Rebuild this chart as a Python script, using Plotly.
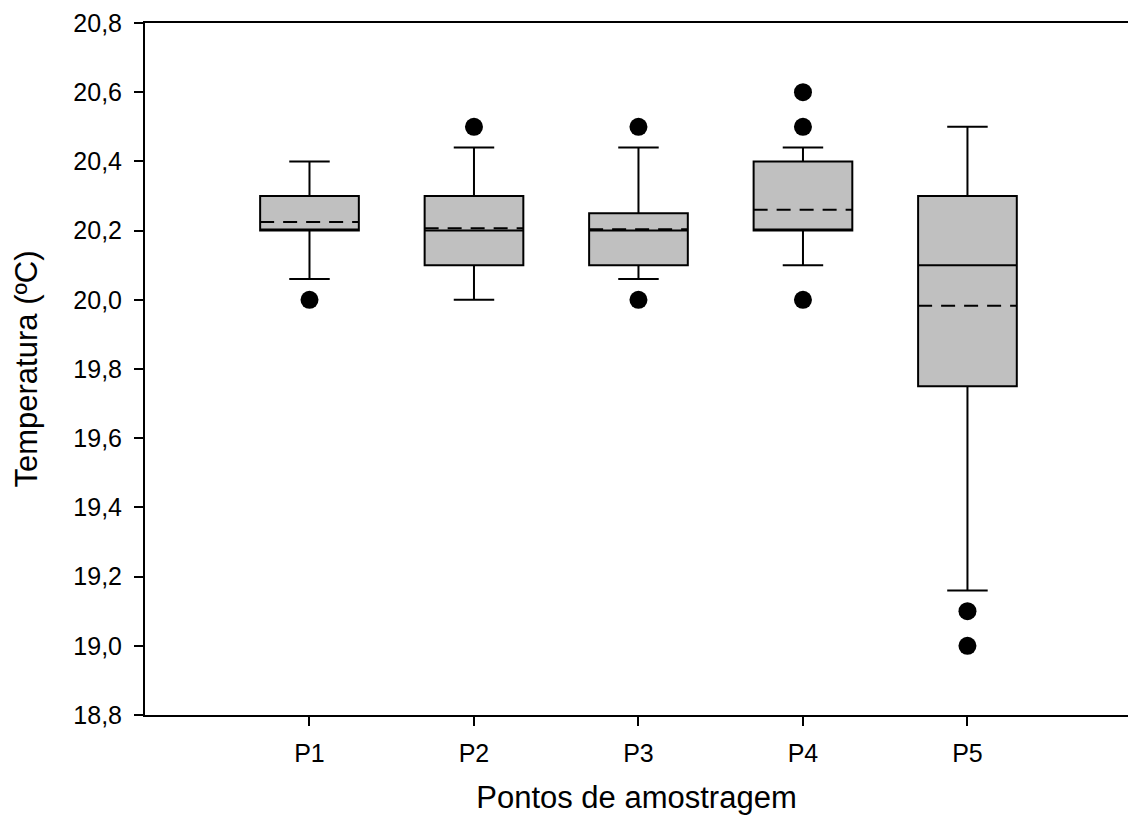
import plotly.graph_objects as go

categories = ["P1", "P2", "P3", "P4", "P5"]
positions = [1, 2, 3, 4, 5]
q1 = [20.20, 20.10, 20.10, 20.20, 19.75]
median = [20.20, 20.20, 20.20, 20.20, 20.10]
q3 = [20.30, 20.30, 20.25, 20.40, 20.30]
mean = [20.225, 20.207, 20.204, 20.26, 19.983]
lower_whisker = [20.06, 20.00, 20.06, 20.10, 19.16]
upper_whisker = [20.40, 20.44, 20.44, 20.44, 20.50]

outlier_x = [1, 2, 3, 3, 4, 4, 4, 5, 5]
outlier_y = [20.0, 20.5, 20.5, 20.0, 20.6, 20.5, 20.0, 19.1, 19.0]

y_ticks = [18.8, 19.0, 19.2, 19.4, 19.6, 19.8, 20.0, 20.2, 20.4, 20.6, 20.8]

FONT = "Liberation Sans, Arial, sans-serif"
BOX_W = 0.6

fig = go.Figure()
fig.add_trace(go.Box(
    x=positions,
    q1=q1, median=median, q3=q3,
    lowerfence=lower_whisker, upperfence=upper_whisker,
    boxpoints=False, boxmean=False,
    fillcolor="#c0c0c0",
    line=dict(color="black", width=2),
    width=BOX_W, whiskerwidth=0.41,
    showlegend=False, hoverinfo="skip",
))

# dashed mean lines across each box
mx, my = [], []
for p, m in zip(positions, mean):
    mx += [p - BOX_W / 2, p + BOX_W / 2, None]
    my += [m, m, None]
fig.add_trace(go.Scatter(
    x=mx, y=my, mode="lines",
    line=dict(color="black", width=2, dash="14px,9px"),
    showlegend=False, hoverinfo="skip",
))

fig.add_trace(go.Scatter(
    x=outlier_x, y=outlier_y, mode="markers",
    marker=dict(color="black", size=18, line=dict(width=0)),
    showlegend=False, hoverinfo="skip",
))

fig.update_layout(
    width=1128, height=829,
    margin=dict(l=145, r=0, t=23, b=114),
    paper_bgcolor="white", plot_bgcolor="white",
    separators=",.",
    font=dict(family=FONT, color="black", size=25),
)
fig.update_xaxes(
    range=[0, 5.976], tickvals=positions, ticktext=categories,
    showline=True, linecolor="black", linewidth=2, mirror=True,
    ticks="outside", ticklen=9, tickwidth=2, tickcolor="black",
    ticklabelstandoff=6,
    showgrid=False, zeroline=False,
    tickfont=dict(size=25, family=FONT),
    title=dict(text="Pontos de amostragem", font=dict(size=31, family=FONT), standoff=20),
)
fig.update_yaxes(
    range=[18.8, 20.8], tickvals=y_ticks, tickformat=".1f",
    showline=True, linecolor="black", linewidth=2,
    ticks="outside", ticklen=9, tickwidth=2, tickcolor="black",
    ticklabelstandoff=7,
    showgrid=False, zeroline=False,
    tickfont=dict(size=25, family=FONT),
    title=dict(text="Temperatura (ºC)", font=dict(size=31, family=FONT), standoff=26),
)

fig.write_html("out.html")
